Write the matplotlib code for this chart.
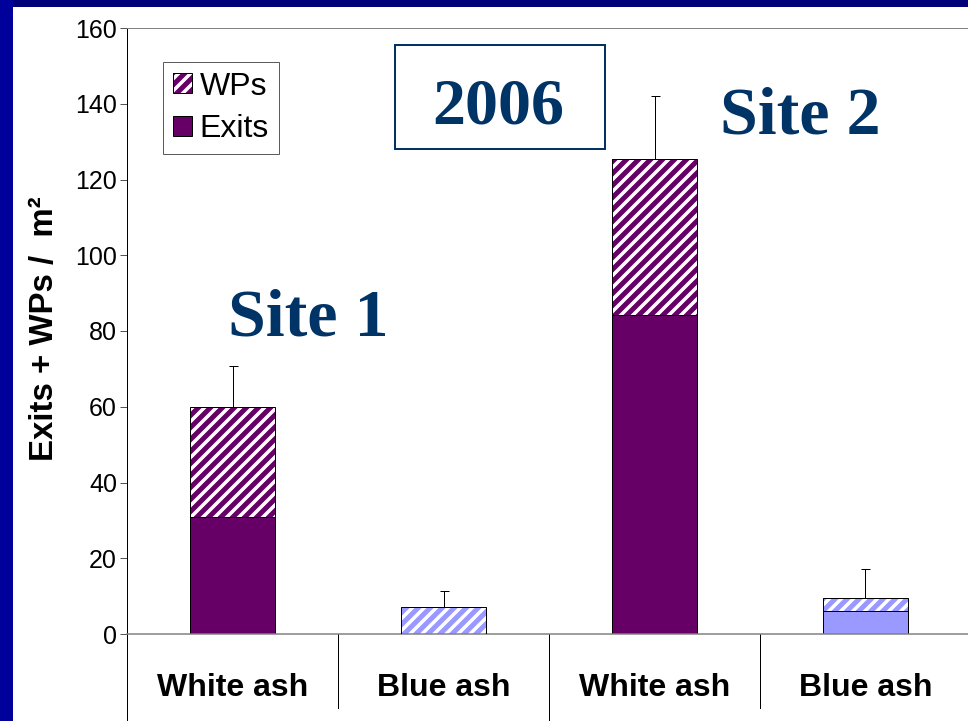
import numpy as np
import matplotlib
matplotlib.use('Agg')
import matplotlib.pyplot as plt
from matplotlib.patches import Rectangle, Patch

# ---- data ----
categories = ['White ash', 'Blue ash', 'White ash', 'Blue ash']
sites = ['Site 1', 'Site 2']
year = '2006'
exits = [31, 0, 84.3, 6.1]
wps = [29, 7.1, 41, 3.4]
err_upper = [10.7, 4.2, 16.7, 7.7]
bar_colors = ['#660066', '#9999FF', '#660066', '#9999FF']
yticks = [0, 20, 40, 60, 80, 100, 120, 140, 160]

W, H, DPI = 968, 721, 72
plt.rcParams['hatch.linewidth'] = 3.5
plt.rcParams['font.family'] = ['Liberation Sans', 'DejaVu Sans']

fig = plt.figure(figsize=(W / DPI, H / DPI), dpi=DPI)
fig.patch.set_facecolor('#000078')
fig.patches.append(Rectangle((0, 0), 13 / W, 1, transform=fig.transFigure,
                             facecolor='#00009A', edgecolor='none', zorder=-2))
fig.patches.append(Rectangle((13 / W, 0), 1, 1 - 7 / H, transform=fig.transFigure,
                             facecolor='white', edgecolor='none', zorder=-2))

ax = fig.add_axes([127 / W, 87 / H, 844 / W, 606 / H])
ax.set_facecolor('none')
x = np.arange(len(categories))
bw = 0.4
tot = np.add(exits, wps)

ax.bar(x, exits, bw, color=bar_colors, edgecolor='black', linewidth=1, zorder=2)
ax.bar(x, wps, bw, bottom=exits, color=bar_colors, edgecolor='white',
       linewidth=0, hatch='//', zorder=2)
ax.bar(x, wps, bw, bottom=exits, fill=False, edgecolor='black', linewidth=1, zorder=3)
ax.errorbar(x, tot, yerr=[np.zeros(len(x)), err_upper], fmt='none', ecolor='black',
            elinewidth=1, capsize=4.5, capthick=1, zorder=4)

ax.set_xlim(-0.5, len(categories) - 0.5)
ax.set_ylim(0, 160)
ax.set_yticks(yticks)
ax.set_xticks([])
ax.tick_params(axis='y', labelsize=25, length=7, width=1, color='#555555', pad=3,
               direction='out')
ax.spines['right'].set_visible(False)
ax.spines['top'].set_color('#808080')
ax.spines['top'].set_linewidth(1)
ax.spines['bottom'].set_color('#808080')
ax.spines['bottom'].set_linewidth(1.5)
ax.spines['left'].set_color('black')
ax.spines['left'].set_linewidth(1)

# category axis labels and separators
lab_y = -(688 - 634) / 606
for xi, c in zip(x, categories):
    ax.text(xi, lab_y, c, transform=ax.get_xaxis_transform(), ha='center', va='center',
            fontsize=32, fontweight='bold', clip_on=False)
short = -(708 - 634) / 606
long_ = -(721 - 634) / 606 - 0.01
for xs, yb in [(-0.5, long_), (0.5, short), (1.5, long_), (2.5, short)]:
    ax.plot([xs, xs], [0, yb], transform=ax.get_xaxis_transform(), color='black',
            lw=1, clip_on=False)

fig.text(45 / W, 1 - 329 / H, 'Exits + WPs /  m²', rotation=90, ha='center', va='center',
         fontsize=33, fontweight='bold')

# legend
p_h = Patch(facecolor='#660066', edgecolor='white', hatch='//', linewidth=0)
p_e = Patch(facecolor='none', edgecolor='black', linewidth=1)
p_x = Patch(facecolor='#660066', edgecolor='black', linewidth=1)
leg = ax.legend([(p_h, p_e), p_x], ['WPs', 'Exits'], loc='upper left',
                bbox_to_anchor=(163 / W, 1 - 62 / H), bbox_transform=fig.transFigure,
                fontsize=32, handlelength=0.6, handleheight=0.6, handletextpad=0.25,
                borderpad=0.3, labelspacing=0.4, frameon=True, fancybox=False,
                edgecolor='#333333', borderaxespad=0)
leg.get_frame().set_linewidth(1)
leg.set_zorder(5)

# annotations
serif = ['Liberation Serif', 'DejaVu Serif']
navy = '#003366'
ax.text((308 - 127) / 844, (634 - 335) / 606, sites[0], transform=ax.transAxes,
        ha='center', va='baseline', fontsize=68, fontweight='bold', color=navy,
        family=serif)
ax.text((800 - 127) / 844, (634 - 134) / 606, sites[1], transform=ax.transAxes,
        ha='center', va='baseline', fontsize=68, fontweight='bold', color=navy,
        family=serif)
ax.text((498 - 127) / 844, (634 - 123) / 606, year, transform=ax.transAxes,
        ha='center', va='baseline', fontsize=66, fontweight='bold', color=navy,
        family=serif)
ax.add_patch(Rectangle((395 / W, 1 - 149 / H), 210 / W, 104 / H, transform=fig.transFigure,
                       facecolor='none', edgecolor=navy, lw=2, clip_on=False))

fig.savefig('out.png', dpi=DPI)
